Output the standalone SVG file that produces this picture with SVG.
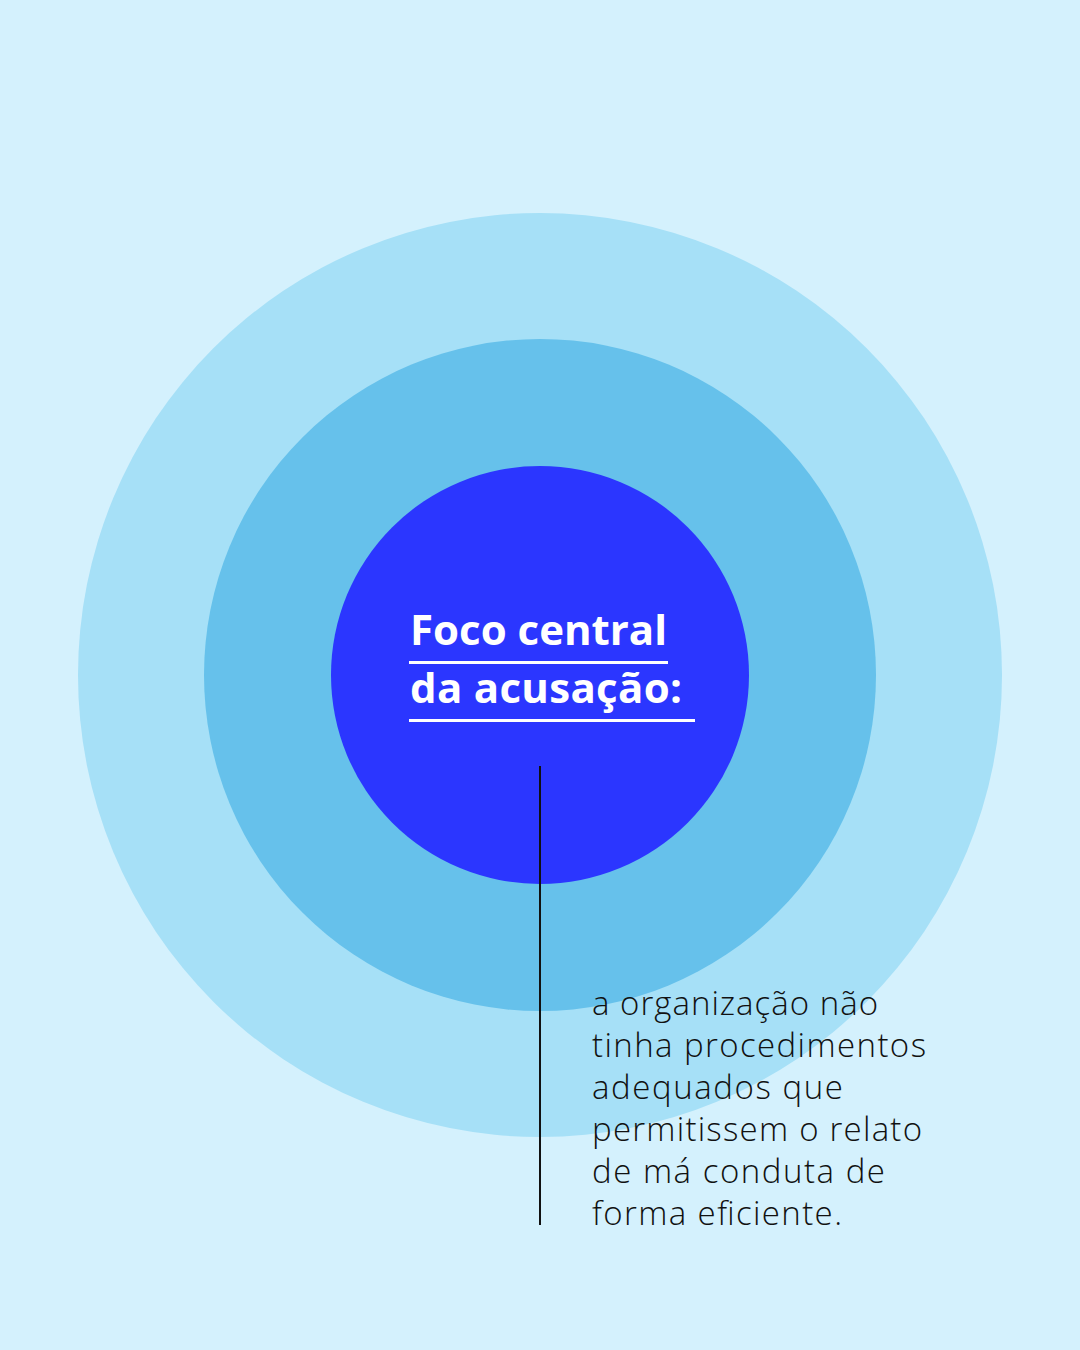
<svg xmlns="http://www.w3.org/2000/svg" width="1080" height="1350" viewBox="0 0 1080 1350">
<style>
.title{font-family:"Open Sans","Lato",sans-serif;font-weight:700;font-size:42px;fill:#ffffff}
.body{font-family:"Open Sans","Lato",sans-serif;font-weight:300;font-size:33px;fill:#111111}
.ul{stroke:#ffffff;stroke-width:3}
</style>
<rect width="1080" height="1350" fill="#d4f1fd"/>
<g id="outer-ring"><circle cx="540" cy="675" r="462" fill="#a6e0f7"/></g>
<g id="middle-ring"><circle cx="540" cy="675" r="336" fill="#66c1eb"/></g>
<g id="core">
<circle cx="540" cy="675" r="209" fill="#2b36ff"/>
<text class="title" x="410" y="645" textLength="257" lengthAdjust="spacing">Foco central</text>
<line class="ul" x1="409" y1="662.5" x2="668" y2="662.5"/>
<text class="title" x="410" y="703" textLength="272" lengthAdjust="spacing">da acusação:</text>
<line class="ul" x1="409" y1="720.5" x2="695" y2="720.5"/>
</g>
<g id="connectors">
<line x1="540" y1="766" x2="540" y2="1225" stroke="#111111" stroke-width="2"/>
</g>
<g id="note">
<text class="body" x="592" y="1015" textLength="286" lengthAdjust="spacing">a organização não</text>
<text class="body" x="592" y="1057" textLength="334" lengthAdjust="spacing">tinha procedimentos</text>
<text class="body" x="592" y="1099" textLength="251" lengthAdjust="spacing">adequados que</text>
<text class="body" x="592" y="1141" textLength="330" lengthAdjust="spacing">permitissem o relato</text>
<text class="body" x="592" y="1183" textLength="293" lengthAdjust="spacing">de má conduta de</text>
<text class="body" x="592" y="1225" textLength="250" lengthAdjust="spacing">forma eficiente.</text>
</g>
</svg>
